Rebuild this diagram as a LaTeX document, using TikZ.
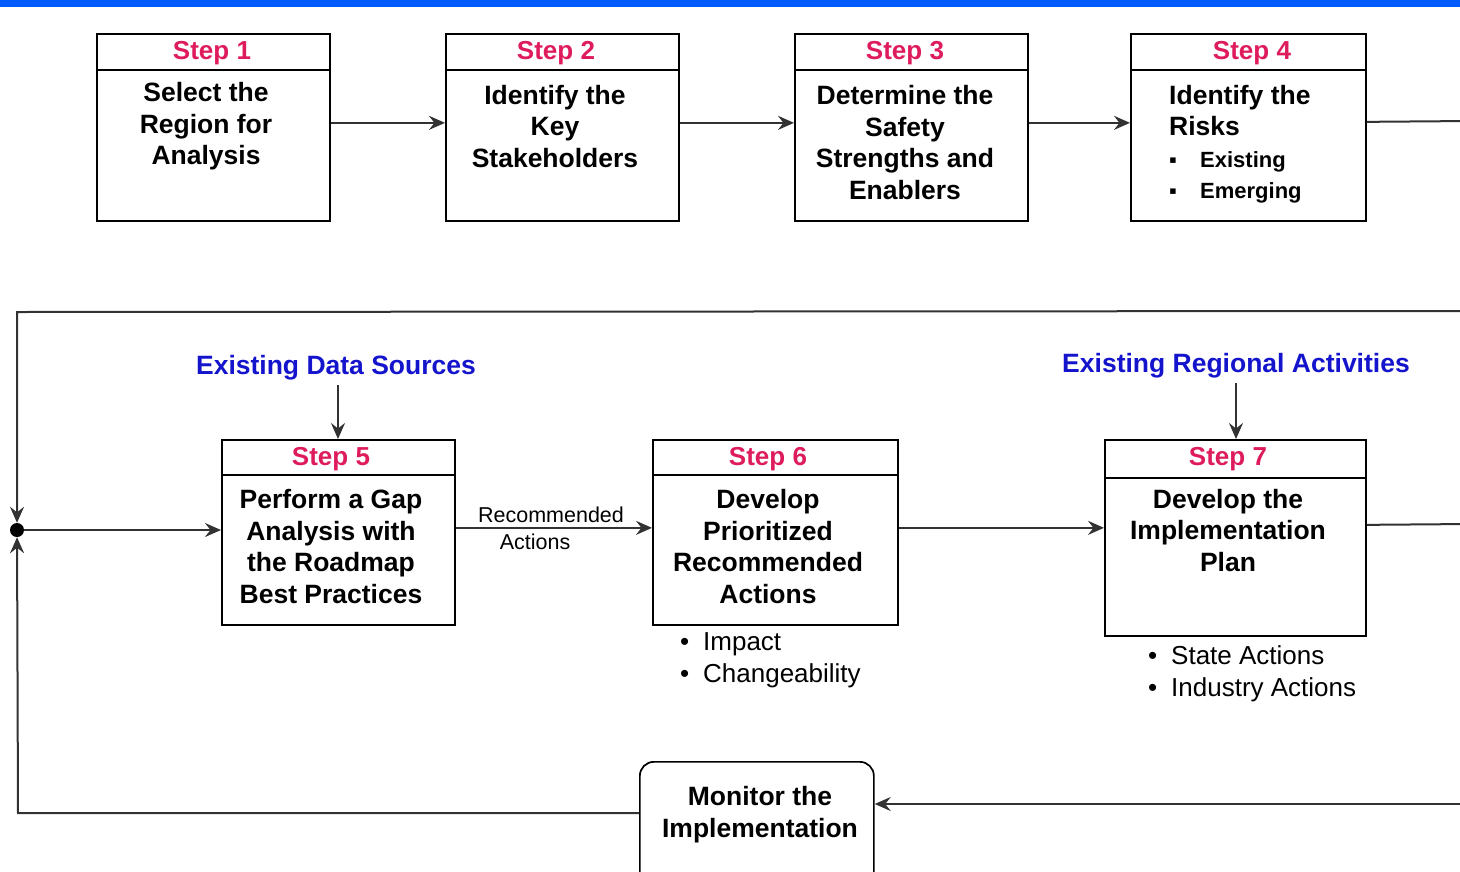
\documentclass[tikz,border=0pt]{standalone}
\usepackage{fontspec}
\setmainfont{Liberation Sans}
\usetikzlibrary{arrows.meta}
\definecolor{steprd}{RGB}{222,28,92}
\definecolor{hdrblue}{RGB}{20,20,205}
\definecolor{barblue}{RGB}{0,92,255}
\definecolor{lngray}{RGB}{50,50,50}
\begin{document}
\begin{tikzpicture}[x=1pt,y=-1pt,
  box/.style={draw=black, line width=1.7pt, rectangle, inner sep=0pt, anchor=north west},
  steplbl/.style={text=steprd, inner sep=0pt, yshift=-2.5pt, font=\fontsize{26}{30}\selectfont\bfseries},
  body/.style={inner sep=0pt, yshift=-2.5pt, font=\fontsize{26.5}{31.5}\selectfont\bfseries, align=center},
  bul/.style={inner sep=0pt, yshift=-2.5pt, anchor=west, align=left, font=\fontsize{26}{32}\selectfont},
  smallbul/.style={inner sep=0pt, yshift=-2.5pt, anchor=west, align=left, font=\fontsize{22}{30.5}\selectfont\bfseries},
  hdr/.style={inner sep=0pt, yshift=-2.5pt, text=hdrblue, font=\fontsize{26.5}{30}\selectfont\bfseries},
  lbl/.style={inner sep=0pt, yshift=-1pt, font=\fontsize{21.5}{26}\selectfont},
  conn/.style={draw=lngray, line width=2pt},
  arr/.style={conn, -{Stealth[length=16pt,width=14pt,inset=5.5pt]}},
  divl/.style={draw=black, line width=1.7pt},
  mon/.style={draw=black, line width=1.7pt, rounded corners=14pt, inner sep=0pt, anchor=north west}
]
\useasboundingbox (0,0) rectangle (1460,871);
\clip (0,0) rectangle (1460,871);
\fill[barblue] (0,0) rectangle (1460,6.5);

% ---------- top row ----------
\node[box, minimum width=233pt, minimum height=187pt] (s1) at (96,33) {};
\draw[divl] (96,70) -- (329,70);
\node[steplbl] (s1h) at (212,51) {Step 1};
\node[body] (s1t) at (206,124) {Select the\\Region for\\Analysis};

\node[box, minimum width=233pt, minimum height=187pt] (s2) at (445,33) {};
\draw[divl] (445,70) -- (678,70);
\node[steplbl] (s2h) at (556,51) {Step 2};
\node[body] (s2t) at (555,124) {Identify the\\Key\\Stakeholders};

\node[box, minimum width=233pt, minimum height=187pt] (s3) at (794,33) {};
\draw[divl] (794,70) -- (1027,70);
\node[steplbl] (s3h) at (905,51) {Step 3};
\node[body] (s3t) at (905,140) {Determine the\\Safety\\Strengths and\\Enablers};

\node[box, minimum width=235pt, minimum height=187pt] (s4) at (1130,33) {};
\draw[divl] (1130,70) -- (1365,70);
\node[steplbl] (s4h) at (1252,51) {Step 4};
\node[body, anchor=west, align=left] (s4t) at (1169,108) {Identify the\\Risks};
\node[smallbul] (s4b) at (1169,175) {\makebox[31pt][l]{▪}Existing\\\makebox[31pt][l]{▪}Emerging};

\draw[arr] ([yshift=4.5pt]s1.east) -- ([yshift=4.5pt]s2.west);
\draw[arr] ([yshift=4.5pt]s2.east) -- ([yshift=4.5pt]s3.west);
\draw[arr] ([yshift=4.5pt]s3.east) -- ([yshift=4.5pt]s4.west);
\coordinate (r4) at (1470,121);
\draw[conn] ([yshift=5.5pt]s4.east) -- (r4);

% ---------- middle row ----------
\node[box, minimum width=233pt, minimum height=185pt] (s5) at (221,439) {};
\draw[divl] (221,475) -- (454,475);
\node[steplbl] (s5h) at (331,457) {Step 5};
\node[body] (s5t) at (331,544) {Perform a Gap\\Analysis with\\the Roadmap\\Best Practices};

\node[box, minimum width=245pt, minimum height=185pt] (s6) at (652,439) {};
\draw[divl] (652,475) -- (897,475);
\node[steplbl] (s6h) at (768,457) {Step 6};
\node[body] (s6t) at (768,544) {Develop\\Prioritized\\Recommended\\Actions};
\node[bul] (s6b) at (680,658) {\makebox[23pt][l]{•}Impact\\\makebox[23pt][l]{•}Changeability};

\node[box, minimum width=261pt, minimum height=196pt] (s7) at (1104,439) {};
\draw[divl] (1104,478) -- (1365,478);
\node[steplbl] (s7h) at (1228,457) {Step 7};
\node[body] (s7t) at (1228,528) {Develop the\\Implementation\\Plan};
\node[bul] (s7b) at (1148,671) {\makebox[23pt][l]{•}State Actions\\\makebox[23pt][l]{•}Industry Actions};

\node[hdr] (eds) at (336,365) {Existing Data Sources};
\node[hdr] (era) at (1236,363) {Existing Regional Activities};
\coordinate (eds1) at (338,385);
\coordinate (era1) at (1236,383);
\draw[arr] (eds1) -- (eds1 |- s5.north);
\draw[arr] (era1) -- (era1 |- s7.north);

\node[lbl] (rec1) at (551,514) {Recommended};
\node[lbl] (rec2) at (535,541) {Actions};

\coordinate (a56) at ([yshift=4.5pt]s5.east);
\draw[arr] (a56) -- (a56 -| s6.west);
\coordinate (a67) at ([yshift=4.5pt]s6.east);
\draw[arr] (a67) -- (a67 -| s7.west);
\coordinate (a7) at ([yshift=13pt]s7.east);
\coordinate (r7) at (1470,524);
\draw[conn] (a7) -- (r7);

% ---------- loop ----------
\node[circle, fill=black, inner sep=0pt, minimum size=14pt] (jd) at (17,530) {};
\coordinate (tr) at (1470,311);
\coordinate (tl) at (17,312);
\draw[arr] (tr) -- (tl) -- (jd);
\draw[arr] (jd) -- (jd -| s5.west);

\node[mon, minimum width=234pt, minimum height=130pt] (mon) at (639,761) {};
\node[body] (mont) at (760,812) {Monitor the\\Implementation};
\coordinate (br) at (1470,804);
\draw[arr] (br) -- (br -| mon.east);
\coordinate (ml) at (639,813);
\coordinate (bl) at (18,813);
\draw[arr] (ml) -- (bl) -- (jd);
\end{tikzpicture}
\end{document}
